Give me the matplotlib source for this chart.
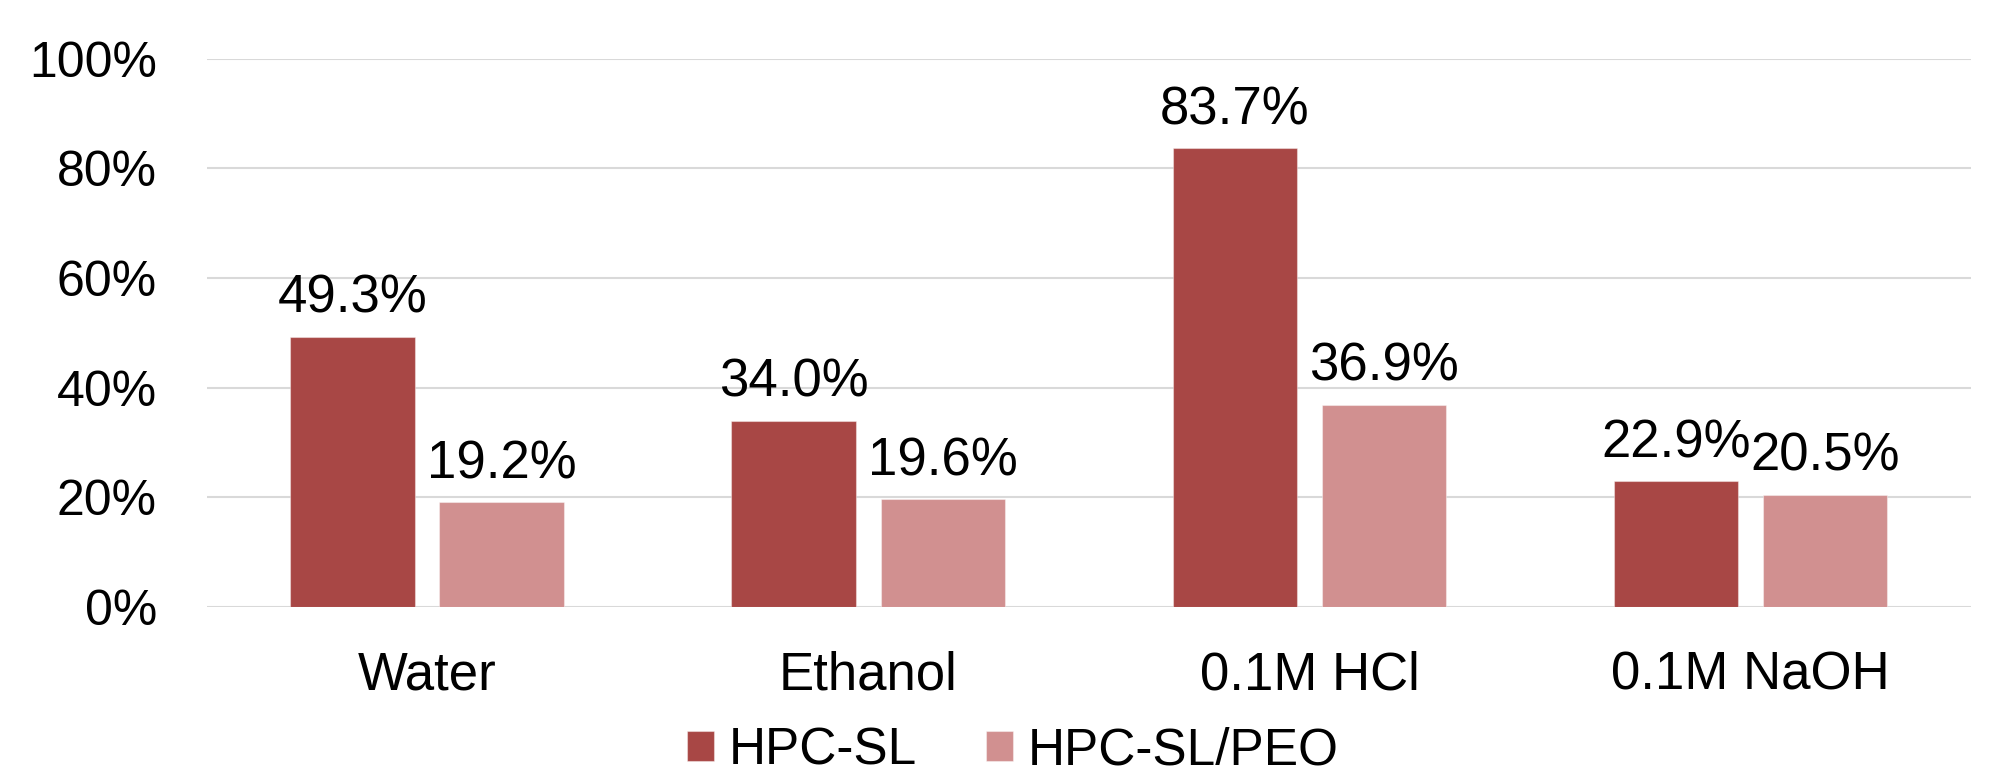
import numpy as np
import matplotlib
matplotlib.use("Agg")
import matplotlib.pyplot as plt
from matplotlib.ticker import FuncFormatter

categories = ["Water", "Ethanol", "0.1M HCl", "0.1M NaOH"]
hpc_sl = [49.3, 34.0, 83.7, 22.9]
hpc_sl_peo = [19.2, 19.6, 36.9, 20.5]
series_names = ["HPC-SL", "HPC-SL/PEO"]
yticks = [0, 20, 40, 60, 80, 100]

dark = "#A84745"
light = "#D19090"

plt.rcParams['font.family'] = ['Liberation Sans', 'DejaVu Sans']
fs = 38

fig = plt.figure(figsize=(19.92, 7.7), dpi=100)
ax = fig.add_axes([0.1038, 0.2117, 0.8857, 0.7123])

x = np.arange(len(categories))
w = 0.283
off = 0.169
b1 = ax.bar(x - off, hpc_sl, w, color=dark, label=series_names[0], zorder=3,
            edgecolor=(1, 1, 1, 0.4), linewidth=0.8)
b2 = ax.bar(x + off, hpc_sl_peo, w, color=light, label=series_names[1], zorder=3,
            edgecolor=(1, 1, 1, 0.4), linewidth=0.8)

for bars, vals in ((b1, hpc_sl), (b2, hpc_sl_peo)):
    for b, v in zip(bars, vals):
        ax.annotate("{:.1f}%".format(v), (b.get_x() + b.get_width() / 2, v),
                    xytext=(0, 17), textcoords="offset points",
                    ha="center", va="baseline", fontsize=fs, zorder=4)

ax.set_xlim(-0.5, len(categories) - 0.5)
ax.set_ylim(0, 100)
ax.set_yticks(yticks)
ax.yaxis.set_major_formatter(FuncFormatter(lambda v, p: "{:.0f}%".format(v)))
ax.set_xticks(x)
ax.set_xticklabels(categories)
ax.tick_params(axis="both", length=0)
ax.tick_params(axis="x", pad=31, labelsize=fs)
ax.tick_params(axis="y", pad=36, labelsize=36)
ax.grid(axis="y", color="#d9d9d9", linewidth=1.5, zorder=0)
for s in ax.spines.values():
    s.set_visible(False)

fig.legend(loc="center", bbox_to_anchor=(0.5085, 0.0247), ncol=2, frameon=False,
           fontsize=37, handlelength=0.53, handleheight=0.53, handletextpad=0.29,
           columnspacing=1.34, borderpad=0)

fig.savefig("out.png", dpi=100)
